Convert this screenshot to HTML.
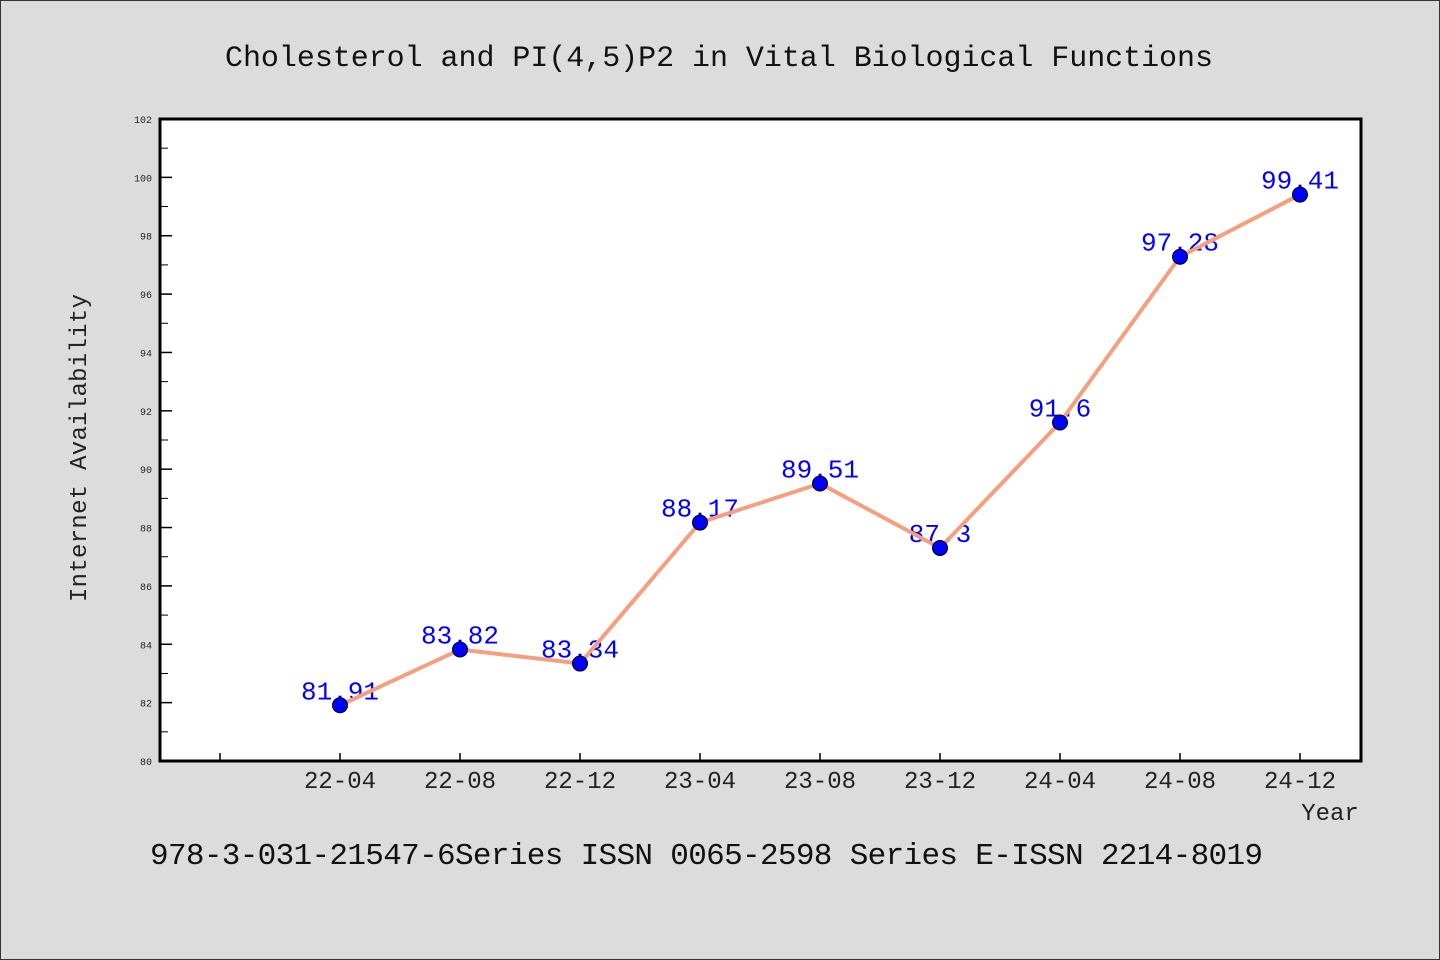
<!DOCTYPE html>
<html><head><meta charset="utf-8"><style>
html,body{margin:0;padding:0;background:#dcdcdc;}
svg{display:block;font-family:"Liberation Mono","WenQuanYi Zen Hei",monospace;}
</style></head><body>
<svg id="chart" width="1440" height="960" xmlns="http://www.w3.org/2000/svg">
<rect x="0.5" y="0.5" width="1439" height="959" fill="#dcdcdc" stroke="#333"/>
<text x="225" y="66" font-size="30" fill="#111" textLength="988" lengthAdjust="spacing">Cholesterol and PI(4,5)P2 in Vital Biological Functions</text>
<rect x="160" y="119" width="1201" height="642" fill="#fff"/>
<g id="axes"></g>
<g id="marks"></g>
<rect x="160" y="119" width="1201" height="642" fill="none" stroke="#000" stroke-width="3"/>
<text x="86" y="448" text-anchor="middle" font-size="24" fill="#222" textLength="308" lengthAdjust="spacing" transform="rotate(-90 86 448)">Internet Availability</text>
<text x="1330" y="820" text-anchor="middle" font-size="24" fill="#222">Year</text>
<text x="150" y="864" font-size="31" fill="#111" textLength="1113" lengthAdjust="spacing">978-3-031-21547-6Series ISSN 0065-2598 Series E-ISSN 2214-8019</text>
</svg>
<script>
const categories = ["", "22-04","22-08","22-12","23-04","23-08","23-12","24-04","24-08","24-12"];
const values = [null, 81.91, 83.82, 83.34, 88.17, 89.51, 87.3, 91.6, 97.28, 99.41];
const valueLabels = ["", "81.91","83.82","83.34","88.17","89.51","87.3","91.6","97.28","99.41"];
const yTicks = [80,82,84,86,88,90,92,94,96,98,100,102];
const NS="http://www.w3.org/2000/svg";
const L=160,R=1361,T=119,B=761,yMin=80,yMax=102;
const xs=i=>L+60+120*i;
const ys=v=>B-(v-yMin)/(yMax-yMin)*(B-T);
function mk(tag,attrs,parent){const e=document.createElementNS(NS,tag);for(const k in attrs)e.setAttribute(k,attrs[k]);parent.appendChild(e);return e;}
const axes=document.getElementById('axes'),marks=document.getElementById('marks');
yTicks.forEach(v=>{
  const y=ys(v);
  const t=mk('line',{x1:L,x2:L+12,y1:y,y2:y,stroke:'#000','stroke-width':1.5},axes);
  
  
  const lb=mk('text',{x:L-8,y:y+4,'text-anchor':'end','font-size':10,fill:'#222'},axes);
  lb.textContent=v;
  
  
  if(v<yMax){const m=mk('line',{x1:L,x2:L+8,y1:ys(v+1),y2:ys(v+1),stroke:'#000','stroke-width':1},axes);
  
  }
});
categories.forEach((c,i)=>{
  const x=xs(i);
  const t=mk('line',{x1:x,x2:x,y1:B,y2:B-8,stroke:'#000','stroke-width':1.5},axes);
  
  
  if(c){const lb=mk('text',{x:x,y:B+27,'text-anchor':'middle','font-size':24,fill:'#222'},axes);
  lb.textContent=c;
  
  }
});
values.forEach((v,i)=>{if(v==null)return;
  const lb=mk('text',{x:xs(i),y:ys(v)-6,'text-anchor':'middle','font-size':26,fill:'#0000ff'},marks);
  lb.textContent=valueLabels[i];
  
  
});
const pts=values.map((v,i)=>v==null?null:xs(i)+','+ys(v)).filter(p=>p);
const line=mk('polyline',{points:pts.join(' '),fill:'none',stroke:'#f4a07e','stroke-width':4,'stroke-linejoin':'round'},marks);


values.forEach((v,i)=>{if(v==null)return;
  const c=mk('circle',{cx:xs(i),cy:ys(v),r:7.5,fill:'#0000ff',stroke:'#000','stroke-width':1},marks);
  
  
});
</script>
</body></html>
